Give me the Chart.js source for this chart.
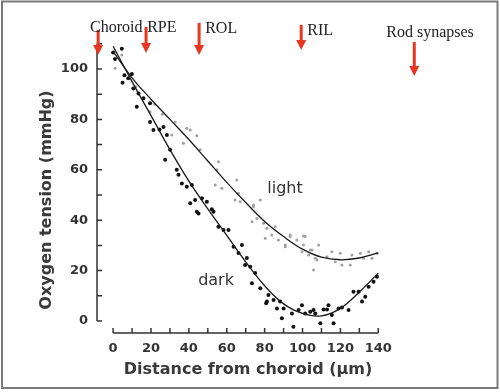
<!DOCTYPE html>
<html>
<head>
<meta charset="utf-8">
<script src="https://cdn.jsdelivr.net/npm/chart.js@4"></script>
<style>
  html, body { margin: 0; padding: 0; background: #fff; }
  #wrap { width: 500px; height: 392px; position: relative; }
</style>
</head>
<body>
<div id="wrap"><canvas id="oxyChart" width="500" height="392"></canvas></div>
<script>
// fitted curves (µm, mmHg)
const curveX = [0, 10, 20, 30, 40, 50, 60, 70, 80, 90, 100, 110, 120, 130, 140];
const darkCurve = [109, 95, 81.5, 68, 55.5, 44.5, 34, 23.5, 14, 6.8, 3, 2, 5, 11.5, 19];
const lightCurve = [107, 96.5, 88, 80, 72, 63.5, 55, 47, 39.5, 33.5, 28.5, 25.3, 24.3, 25, 27];

// measured points, dark adapted
const darkPts = [
  [0, 106.5], [4.6, 108], [1, 104], [6, 97.5], [9.9, 98], [5, 94.5], [8, 96.3], [10.7, 92.3],
  [13.4, 90.3], [12.5, 85], [16, 88.4], [19.5, 86.4], [19.5, 79], [21.3, 75.8], [24.5, 76],
  [26.6, 77], [28.4, 73.8], [30.1, 68], [27.5, 64], [33.6, 60], [34.5, 58], [36.3, 54.6],
  [38.9, 53.3], [41.6, 54], [40.7, 46.7], [43.3, 48], [44.2, 43.4], [46.9, 48.7], [49.5, 47.3],
  [45.1, 42.7], [52.1, 44.3], [53, 43.4], [55.6, 37.4], [58.3, 36.1], [60.9, 36.1], [63.6, 29.5],
  [66.2, 27], [68, 30.2], [70.6, 25], [69.7, 22.2], [72.4, 21.5], [75, 19], [73.3, 15], [77.7, 13],
  [81.2, 7.7], [82, 10.3], [84.7, 8.3], [80.8, 7], [86.5, 5], [88.2, 7.7], [90, 5], [89.1, 1.1],
  [94.4, 3], [95.2, -2.3], [97.9, 4.4], [99.7, 6.3], [101.4, 3], [104.1, 3.7], [105.8, 4.4],
  [106.7, 3], [109.4, -0.9], [111.1, 4.6], [112.9, 4.6], [113.7, 6.3], [115.5, 2.4], [116.4, -0.9],
  [119, 5], [120.8, 5.4], [124.3, 4.4], [126.9, 11.6], [129.6, 11.6], [131.4, 7.7], [133.1, 9.6],
  [134.9, 13.6], [137.5, 15.6], [139.3, 17.6]
];

// measured points, light adapted
const lightPts = [
  [4.6, 105.6], [1.1, 100.3], [12, 93], [22, 86], [26, 82], [19.5, 83], [32.8, 79], [38.9, 76.5],
  [40.7, 75.8], [31, 73.8], [44.2, 73.5], [37.1, 70.5], [46, 68], [55.6, 63.2], [54.8, 60],
  [53.9, 54], [57.4, 52.7], [65.3, 56], [66.2, 50.7], [67.1, 47.3], [64.4, 48], [77.7, 48],
  [74.1, 46], [74.1, 45.4], [73.3, 39.4], [75.9, 40.7], [79.4, 38.8], [81.2, 36.8], [85.6, 37.4],
  [83.8, 34.1], [80.3, 32.8], [87.3, 32.1], [93.5, 33.5], [93.5, 34.1], [97, 32.1], [90.9, 29.5],
  [90.9, 30.2], [100.5, 30.2], [100.5, 33.7], [99.7, 27.5], [101.4, 33.5], [105, 28.2], [103.2, 26.2],
  [104.1, 28.2], [108.5, 30.2], [107.6, 24.2], [106.7, 24.9], [105.8, 20.2], [112.9, 25.5],
  [115.5, 27.5], [119.9, 26.9], [117.3, 23.5], [120.8, 22.2], [125.2, 22.2], [126.1, 26.2],
  [130.5, 26.9], [132.2, 24.9], [134.9, 27.5], [136.7, 24.9], [139.3, 26.9]
];

// layer markers (red arrows) and their names
const layerNames = ["Choroid", "RPE", "ROL", "RIL", "Rod synapses"];
const arrowX = [-7.9, 17.4, 45.4, 99.3, 159];
const arrowTop = [115.5, 116.7, 118.3, 117.5, 110.7];
const arrowTip = [105.6, 106.3, 105.6, 107.5, 97.2];
const nameX = [-12.2, 18, 48.6, 102.5, 144.2];
const nameY = [114.7, 114.7, 114.3, 113.5, 112.7];

// curve labels
const curveNames = ["light", "dark"];
const curveNameX = [81.4, 44.9];
const curveNameY = [50.8, 14.3];

const xTicks = [0, 20, 40, 60, 80, 100, 120, 140];
const yTicks = [0, 20, 40, 60, 80, 100];
const xMinor = [0, 10, 20, 30, 40, 50, 60, 70, 80, 90, 100, 110, 120, 130, 140];
const yMinor = [0, 10, 20, 30, 40, 50, 60, 70, 80, 90, 100, 110];

const sansFont = "DejaVu Sans";

// axes, arrows and labels drawn over the chart
const extrasPlugin = {
  id: "extras",
  beforeDraw(chart) {
    const ctx = chart.ctx;
    ctx.save();
    ctx.fillStyle = "#fff";
    ctx.fillRect(0, 0, chart.width, chart.height);
    ctx.strokeStyle = "#7a7a7a";
    ctx.lineWidth = 2;
    ctx.strokeRect(2, 1.5, chart.width - 4.5, chart.height - 5.5);
    ctx.restore();
  },
  afterDraw(chart) {
    const ctx = chart.ctx;
    const xs = chart.scales.x;
    const ys = chart.scales.y;
    const area = chart.chartArea;
    ctx.save();

    // y axis line + inward ticks
    ctx.strokeStyle = "#333";
    ctx.lineWidth = 1.5;
    const yAxisPx = area.left;
    ctx.beginPath();
    ctx.moveTo(yAxisPx, ys.getPixelForValue(yMinor[0]));
    ctx.lineTo(yAxisPx, ys.getPixelForValue(yMinor[yMinor.length - 1]));
    yMinor.forEach(v => {
      const py = ys.getPixelForValue(v);
      ctx.moveTo(yAxisPx, py);
      ctx.lineTo(yAxisPx + 5, py);
    });
    ctx.stroke();

    // x axis line + upward ticks
    const xAxisPx = area.bottom;
    ctx.beginPath();
    ctx.moveTo(xs.getPixelForValue(xMinor[0]), xAxisPx);
    ctx.lineTo(xs.getPixelForValue(xMinor[xMinor.length - 1]), xAxisPx);
    xMinor.forEach(v => {
      const px = xs.getPixelForValue(v);
      ctx.moveTo(px, xAxisPx);
      ctx.lineTo(px, xAxisPx - 5);
    });
    ctx.stroke();

    // red arrows
    ctx.fillStyle = "#e8361f";
    arrowX.forEach((v, i) => {
      const px = xs.getPixelForValue(v);
      const top = ys.getPixelForValue(arrowTop[i]);
      const tip = ys.getPixelForValue(arrowTip[i]);
      ctx.fillRect(px - 1.5, top, 3, tip - top - 8);
      ctx.beginPath();
      ctx.moveTo(px - 5, tip - 10);
      ctx.lineTo(px + 5, tip - 10);
      ctx.lineTo(px, tip);
      ctx.closePath();
      ctx.fill();
    });

    // layer names
    ctx.fillStyle = "#222";
    ctx.font = "16px 'Liberation Serif'";
    ctx.textBaseline = "alphabetic";
    ctx.textAlign = "left";
    layerNames.forEach((t, i) => {
      ctx.fillText(t, xs.getPixelForValue(nameX[i]), ys.getPixelForValue(nameY[i]));
    });

    // curve names
    ctx.fillStyle = "#333";
    ctx.font = "16px '" + sansFont + "'";
    curveNames.forEach((t, i) => {
      ctx.fillText(t, xs.getPixelForValue(curveNameX[i]), ys.getPixelForValue(curveNameY[i]));
    });

    // axis titles
    ctx.fillStyle = "#3a3a3a";
    ctx.font = "bold 16px '" + sansFont + "'";
    ctx.textAlign = "center";
    ctx.textBaseline = "middle";
    ctx.fillText("Distance from choroid (\u00b5m)", 248, 370);
    ctx.translate(47, 200);
    ctx.rotate(-Math.PI / 2);
    ctx.fillText("Oxygen tension (mmHg)", 0, 0);

    ctx.restore();
  }
};

const ctx = document.getElementById("oxyChart").getContext("2d");
new Chart(ctx, {
  type: "scatter",
  data: {
    datasets: [
      {
        type: "line",
        label: "dark fit",
        data: curveX.map((x, i) => ({ x: x, y: darkCurve[i] })),
        borderColor: "#1a1a1a",
        borderWidth: 1.3,
        pointRadius: 0,
        tension: 0.4,
        fill: false,
      },
      {
        type: "line",
        label: "light fit",
        data: curveX.map((x, i) => ({ x: x, y: lightCurve[i] })),
        borderColor: "#1a1a1a",
        borderWidth: 1.3,
        pointRadius: 0,
        tension: 0.4,
        fill: false,
      },
      {
        label: "light",
        data: lightPts.map(p => ({ x: p[0], y: p[1] })),
        backgroundColor: "#a0a0a0",
        borderWidth: 0,
        pointRadius: 1.5,
      },
      {
        label: "dark",
        data: darkPts.map(p => ({ x: p[0], y: p[1] })),
        backgroundColor: "#111",
        borderWidth: 0,
        pointRadius: 2,
      },
    ],
  },
  options: {
    responsive: false,
    animation: false,
    devicePixelRatio: 1,
    layout: { padding: { left: 0, top: 8, right: 27, bottom: 0 } },
    plugins: { legend: { display: false }, tooltip: { enabled: false } },
    scales: {
      x: {
        type: "linear",
        min: -8.5,
        max: 190,
        grid: { display: false, drawTicks: false },
        border: { display: false },
        ticks: { font: { family: sansFont, size: 13, weight: "bold" }, color: "#333", padding: 8 },
        afterBuildTicks: s => { s.ticks = xTicks.map(v => ({ value: v })); },
        afterFit: s => { s.height = 59; s.paddingLeft = 0; s.paddingRight = 0; },
      },
      y: {
        type: "linear",
        min: -4.76,
        max: 124.2,
        grid: { display: false, drawTicks: false },
        border: { display: false },
        ticks: { font: { family: sansFont, size: 13, weight: "bold" }, color: "#333", padding: 9 },
        afterBuildTicks: s => { s.ticks = yTicks.map(v => ({ value: v })); },
        afterFit: s => { s.width = 97; s.paddingTop = 0; s.paddingBottom = 0; },
      },
    },
  },
  plugins: [extrasPlugin],
});
</script>
</body>
</html>
